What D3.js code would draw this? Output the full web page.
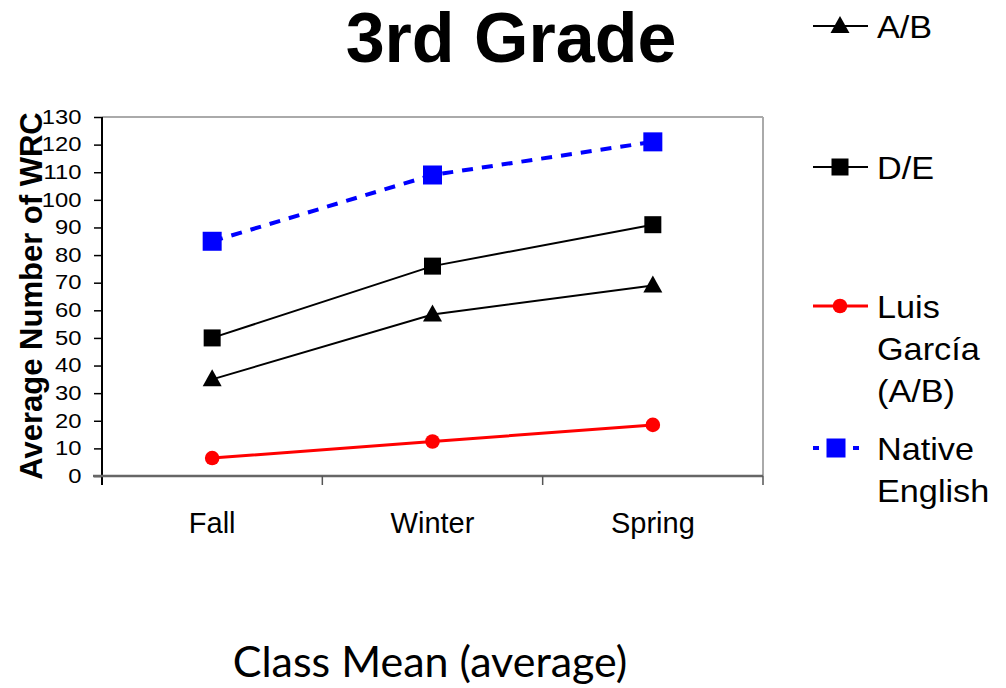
<!DOCTYPE html>
<html><head><meta charset="utf-8">
<script src="https://cdn.jsdelivr.net/npm/d3@7"></script>
<style>body{margin:0;background:#fff}svg{display:block}</style>
</head><body>
<script>
const categories = ["Fall", "Winter", "Spring"];
const seriesNames = ["A/B", "D/E", "Luis García (A/B)", "Native English"];
const valuesAB = [35, 58.5, 69];
const valuesDE = [50, 76, 91];
const valuesLuis = [6.5, 12.5, 18.5];
const valuesNative = [85, 109, 121];
const yTicks = [0,10,20,30,40,50,60,70,80,90,100,110,120,130];
const titleText = "3rd Grade";
const yLabelText = "Average Number of WRC";
const bottomText = "Class Mean (average)";

const W = 1006, H = 688;
const FONT = "Arial, 'Liberation Sans', sans-serif";
const svg = d3.select("body").append("svg").attr("width", W).attr("height", H);
const L = 102, R = 763, T = 117, B = 476;
const x = d3.scaleBand().domain(categories).range([L, R]);
const y = d3.scaleLinear().domain([0, 130]).range([B, T]);

// frame
svg.append("line").attr("x1", L).attr("x2", R).attr("y1", T).attr("y2", T).attr("stroke", "#aaa").attr("stroke-width", 2);
svg.append("line").attr("x1", R).attr("x2", R).attr("y1", T).attr("y2", B).attr("stroke", "#aaa").attr("stroke-width", 2);

// y axis
const ySX = 1.22;
const ya = svg.append("g").attr("transform", `translate(${L},0)`)
  .call(d3.axisLeft(y).tickValues(yTicks).tickSize(8).tickPadding(12).tickSizeOuter(0));
ya.select(".domain").attr("stroke", "#000").attr("stroke-width", 2).attr("d", `M0,${T}V${B+9}`);
ya.selectAll(".tick line").attr("stroke", "#000").attr("stroke-width", 1.5);
ya.selectAll(".tick text").attr("font-family", FONT).attr("font-size", 19.5).attr("fill", "#000")
  .attr("x", -20.5 / ySX).attr("transform", `scale(${ySX},1)`);

// x axis
const xa = svg.append("g").attr("transform", `translate(0,${B})`)
  .call(d3.axisBottom(x).tickSize(0).tickPadding(0).tickSizeOuter(0));
xa.select(".domain").attr("stroke", "#666").attr("stroke-width", 2.5).attr("d", `M${L-9},0H${R}`);
xa.selectAll(".tick text").attr("font-family", FONT).attr("font-size", 29).attr("fill", "#000").attr("dy", null).attr("y", 57);
const edges = categories.map(c => x(c)).concat([x.range()[1]]);
xa.selectAll("line.edge").data(edges.slice(1)).join("line").attr("class", "edge")
  .attr("x1", d => d).attr("x2", d => d).attr("y1", 0).attr("y2", 9).attr("stroke", "#555").attr("stroke-width", 1.5);

const cx = c => x(c) + x.bandwidth() / 2;
const series = [
  {name: seriesNames[0], vals: valuesAB, color: "#000", width: 2, dash: null, sym: "tri"},
  {name: seriesNames[1], vals: valuesDE, color: "#000", width: 2, dash: null, sym: "sq"},
  {name: seriesNames[2], vals: valuesLuis, color: "#ff0000", width: 3, dash: null, sym: "circ"},
  {name: seriesNames[3], vals: valuesNative, color: "#0000ff", width: 4, dash: "11,9", sym: "bsq"}
];
const line = d3.line().x(d => cx(d.c)).y(d => y(d.v));

function marker(g, sym, color, px, py) {
  if (sym === "tri") {
    g.append("path").attr("d", `M${px},${py-10}L${px+9.5},${py+7}L${px-9.5},${py+7}Z`).attr("fill", color);
  } else if (sym === "sq") {
    g.append("rect").attr("x", px-8.5).attr("y", py-8.5).attr("width", 17).attr("height", 17).attr("fill", color);
  } else if (sym === "bsq") {
    g.append("rect").attr("x", px-9.5).attr("y", py-9.5).attr("width", 19).attr("height", 19).attr("fill", color);
  } else {
    g.append("circle").attr("cx", px).attr("cy", py).attr("r", 7.3).attr("fill", color);
  }
}

series.forEach(s => {
  const pts = categories.map((c, i) => ({c, v: s.vals[i]}));
  const g = svg.append("g");
  g.append("path").attr("d", line(pts)).attr("fill", "none").attr("stroke", s.color)
    .attr("stroke-width", s.width).attr("stroke-dasharray", s.dash);
  pts.forEach(p => marker(g, s.sym, s.color, cx(p.c), y(p.v)));
});

// legend
const legY = [26, 167, 306, 448];
const legLines = [["A/B"], ["D/E"], ["Luis", "García", "(A/B)"], ["Native", "English"]];
const lSX = 1.07;
const lg = svg.append("g");
series.forEach((s, i) => {
  const ly = legY[i];
  if (s.dash) {
    lg.append("line").attr("x1", 813).attr("x2", 819).attr("y1", ly).attr("y2", ly).attr("stroke", s.color).attr("stroke-width", 4);
    lg.append("line").attr("x1", 853).attr("x2", 859).attr("y1", ly).attr("y2", ly).attr("stroke", s.color).attr("stroke-width", 4);
  } else {
    lg.append("line").attr("x1", 813).attr("x2", 868).attr("y1", ly).attr("y2", ly).attr("stroke", s.color).attr("stroke-width", s.width);
  }
  marker(lg, s.sym, s.color, s.dash ? 836 : 840, ly);
  const t = lg.append("text").attr("transform", `translate(877,${ly + 12}) scale(${lSX},1)`)
    .attr("font-family", FONT).attr("font-size", 32).attr("fill", "#000");
  legLines[i].forEach((ln, j) => t.append("tspan").attr("x", 0).attr("dy", j ? 42 : 0).text(ln));
});

// title
svg.append("text").attr("x", 511).attr("y", 62).attr("text-anchor", "middle")
  .attr("font-family", FONT).attr("font-weight", "bold").attr("font-size", 70).text(titleText);
// y label
svg.append("text").attr("transform", "translate(42,296) rotate(-90)").attr("text-anchor", "middle")
  .attr("font-family", FONT).attr("font-weight", "bold").attr("font-size", 31).text(yLabelText);
// bottom text
svg.append("text").attr("x", 430).attr("y", 677).attr("text-anchor", "middle")
  .attr("font-family", "Lato, sans-serif").attr("font-size", 43).text(bottomText);
</script>
</body></html>
